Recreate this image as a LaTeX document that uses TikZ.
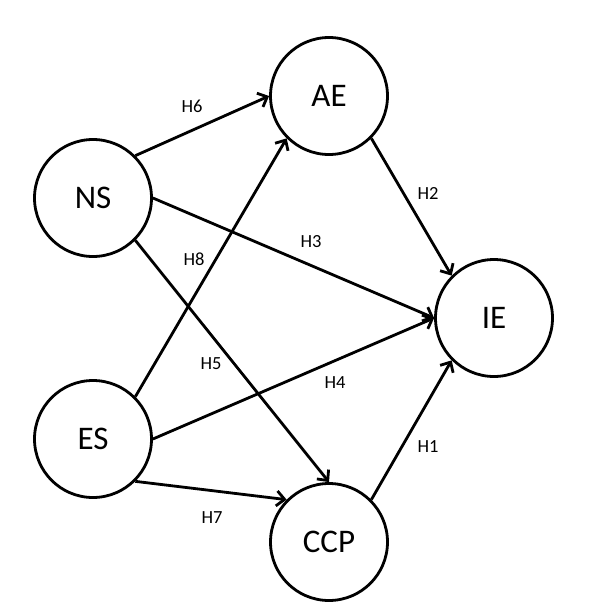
\documentclass[tikz,border=0pt]{standalone}
\usepackage{fontspec}
\setmainfont{Carlito}
\usetikzlibrary{arrows.meta}
\begin{document}
\begin{tikzpicture}[x=1pt,y=-1pt,
  var/.style={circle,draw,line width=2.8pt,minimum size=117pt,inner sep=0pt,font=\fontsize{33}{33}\selectfont},
  hyp/.style={font=\fontsize{18.5}{19}\selectfont,inner sep=0pt},
  path/.style={line width=2.8pt,-{Straight Barb[length=8pt,width=15pt,line width=2.8pt]}}]
\useasboundingbox (0,0) rectangle (594,616);
\node[var] (NS) at (93,198) {NS};
\node[var] (AE) at (329,96) {AE};
\node[var] (IE) at (494,318) {IE};
\node[var] (ES) at (93,439) {ES};
\node[var] (CCP) at (329,542) {CCP};
\draw[path] (NS.45) -- (AE.west);
\draw[path] (NS.east) -- (IE.west);
\draw[path] (NS.-45) -- (CCP.north);
\draw[path] (ES.45) -- (AE.-135);
\draw[path] (ES.east) -- (IE.west);
\draw[path] (ES.-45) -- (CCP.135);
\draw[path] (CCP.45) -- (IE.-135);
\draw[path] (AE.-45) -- (IE.135);
\node[hyp] (h6) at (192,106) {H6};
\node[hyp] (h8) at (194,259) {H8};
\node[hyp] (h3) at (311,242) {H3};
\node[hyp] (h2) at (428,193) {H2};
\node[hyp] (h5) at (211,364) {H5};
\node[hyp] (h4) at (335,383) {H4};
\node[hyp] (h1) at (428,447) {H1};
\node[hyp] (h7) at (212,518) {H7};
\end{tikzpicture}
\end{document}
